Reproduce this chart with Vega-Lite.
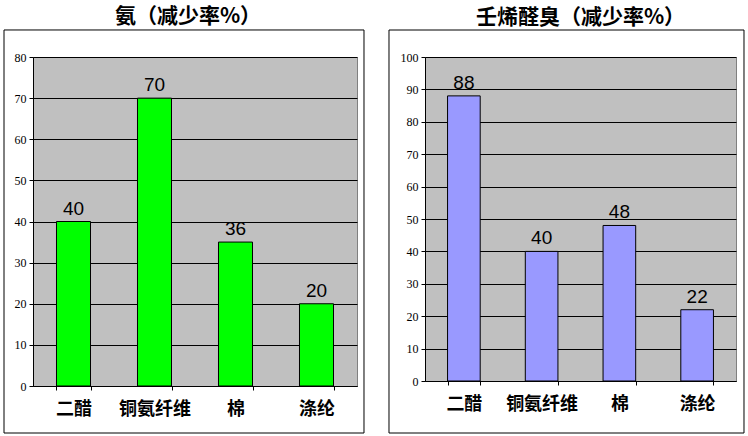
{
  "$schema": "https://vega.github.io/schema/vega-lite/v6.json",
  "background": "white",
  "padding": {"left": 3, "top": 5, "right": 3, "bottom": 3},
  "spacing": 22,
  "config": {
    "view": {"fill": "#C0C0C0", "stroke": "#808080", "strokeWidth": 1},
    "title": {"font": "Noto Sans CJK SC", "fontSize": 21, "fontWeight": "bold", "color": "black", "offset": 2},
    "axisX": {"title": null, "labelAngle": 0, "labelFont": "Noto Sans CJK SC", "labelFontWeight": "bold", "labelFontSize": 18, "labelColor": "black", "labelPadding": 10, "tickBand": "extent", "tickSize": 4, "tickColor": "black", "domainColor": "black", "grid": false},
    "axisY": {"title": null, "labelFont": "Liberation Serif", "labelFontSize": 12, "labelColor": "black", "labelPadding": 3, "tickSize": 4, "tickColor": "black", "domainColor": "black", "grid": true, "gridColor": "black", "gridOpacity": 1}
  },
  "hconcat": [
    {
      "width": 324,
      "height": 329,
      "title": {"text": "氨（减少率%）", "dx": -7},
      "data": {"values": [
        {"fiber": "二醋", "value": 40, "label": 40},
        {"fiber": "铜氨纤维", "value": 70, "label": 70},
        {"fiber": "棉", "value": 35, "label": 36},
        {"fiber": "涤纶", "value": 20, "label": 20}
      ]},
      "layer": [
        {
          "encoding": {
            "x": {"field": "fiber", "type": "nominal", "sort": null, "scale": {"paddingInner": 0.58, "paddingOuter": 0.29}},
            "y": {"field": "value", "type": "quantitative", "scale": {"domain": [0, 80], "nice": false}, "axis": {"values": [0, 10, 20, 30, 40, 50, 60, 70, 80]}}
          },
          "layer": [
            {"mark": {"type": "bar", "fill": "#00FF00", "stroke": "black", "strokeWidth": 1}},
            {
              "mark": {"type": "text", "baseline": "bottom", "dy": -3, "font": "Liberation Sans", "fontSize": 19, "color": "black"},
              "encoding": {"text": {"field": "label"}}
            }
          ]
        },
        {
          "data": {"values": [{"frame": 1}]},
          "mark": {"type": "rect", "filled": false, "stroke": "black", "strokeWidth": 1, "clip": false},
          "encoding": {
            "x": {"datum": -0.0895, "type": "quantitative", "scale": {"domain": [0, 1], "nice": false}, "axis": null},
            "x2": {"datum": 1.0216},
            "y": {"datum": -11.43, "type": "quantitative", "axis": {"values": [0, 10, 20, 30, 40, 50, 60, 70, 80]}},
            "y2": {"datum": 86.57}
          }
        }
      ],
      "resolve": {"scale": {"x": "independent"}}
    },
    {
      "width": 311,
      "height": 324,
      "title": {"text": "壬烯醛臭（减少率%）"},
      "data": {"values": [
        {"fiber": "二醋", "value": 88, "label": 88},
        {"fiber": "铜氨纤维", "value": 40, "label": 40},
        {"fiber": "棉", "value": 48, "label": 48},
        {"fiber": "涤纶", "value": 22, "label": 22}
      ]},
      "layer": [
        {
          "encoding": {
            "x": {"field": "fiber", "type": "nominal", "sort": null, "scale": {"paddingInner": 0.58, "paddingOuter": 0.29}},
            "y": {"field": "value", "type": "quantitative", "scale": {"domain": [0, 100], "nice": false}, "axis": {"values": [0, 10, 20, 30, 40, 50, 60, 70, 80, 90, 100]}}
          },
          "layer": [
            {"mark": {"type": "bar", "fill": "#9999FF", "stroke": "black", "strokeWidth": 1}},
            {
              "mark": {"type": "text", "baseline": "bottom", "dy": -3, "font": "Liberation Sans", "fontSize": 19, "color": "black"},
              "encoding": {"text": {"field": "label"}}
            }
          ]
        },
        {
          "data": {"values": [{"frame": 1}]},
          "mark": {"type": "rect", "filled": false, "stroke": "black", "strokeWidth": 1, "clip": false},
          "encoding": {
            "x": {"datum": -0.1158, "type": "quantitative", "scale": {"domain": [0, 1], "nice": false}, "axis": null},
            "x2": {"datum": 1.0257},
            "y": {"datum": -16.05, "type": "quantitative", "axis": {"values": [0, 10, 20, 30, 40, 50, 60, 70, 80, 90, 100]}},
            "y2": {"datum": 108.33}
          }
        }
      ],
      "resolve": {"scale": {"x": "independent"}}
    }
  ]
}
